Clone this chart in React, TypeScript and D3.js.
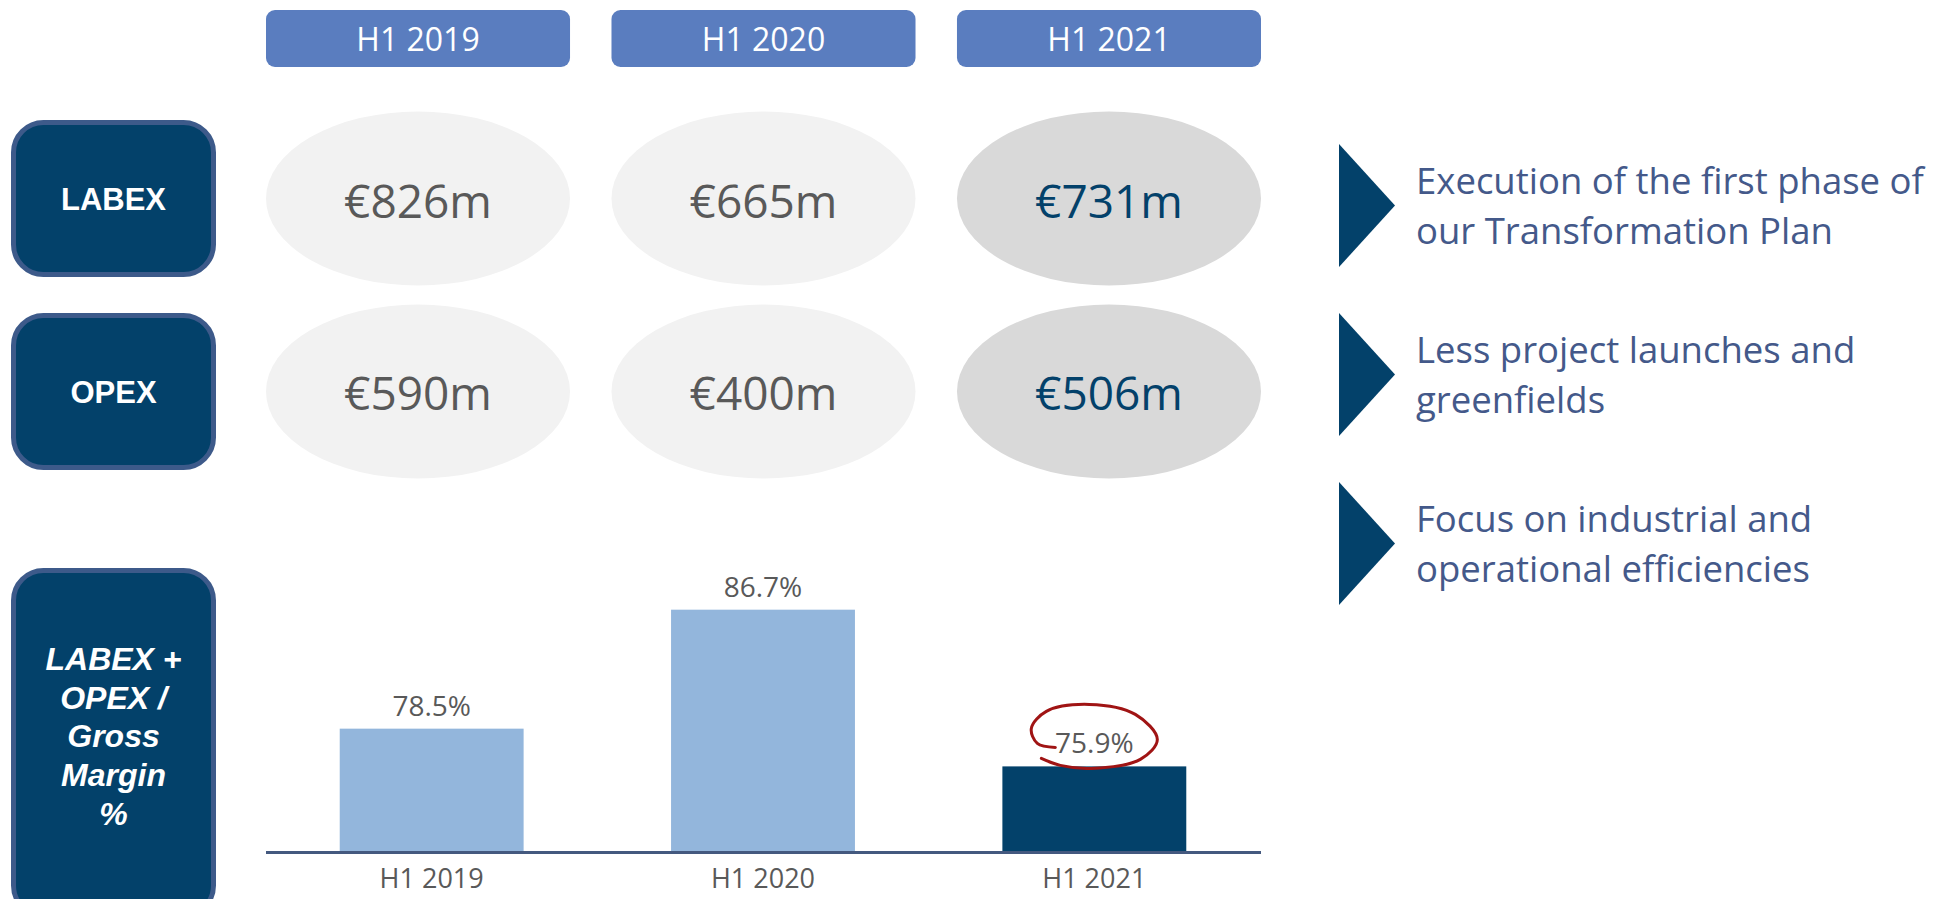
import React from "react";
import * as d3 from "d3";

const years = ["H1 2019", "H1 2020", "H1 2021"];
const highlightYear = "H1 2021";
const rowNames = ["LABEX", "OPEX"];
const labexValues = [826, 665, 731];
const opexValues = [590, 400, 506];
const ratioValues = [78.5, 86.7, 75.9];
const ratioLabelLines = ["LABEX +", "OPEX /", "Gross", "Margin", "%"];
const bulletLines = [
  ["Execution of the first phase of", "our Transformation Plan"],
  ["Less project launches and", "greenfields"],
  ["Focus on industrial and", "operational efficiencies"],
];

const W = 1945;
const H = 899;
const DARK = "#03416a";
const BORDER = "#3d5a8a";
const HEADER = "#5a7dbf";
const GRAY_TEXT = "#595959";
const LIGHT_BAR = "#93b6dc";
const BULLET_TEXT = "#44598a";
const SANS = "'Open Sans', sans-serif";
const ARIAL = "'Liberation Sans', Arial, sans-serif";

export default function App() {
  const colX = d3.scaleBand<string>().domain(years).range([266, 1261]).paddingInner(0.12).paddingOuter(0);
  const rowY = d3.scaleBand<string>().domain(rowNames).range([120, 470]).paddingInner(0.1865).paddingOuter(0);
  const barX = d3.scaleBand<string>().domain(years).range([266, 1260]).paddingInner(0.445).paddingOuter(0.2225);
  const barY = d3.scaleLinear().domain([70, 90]).range([852, 561.8]);
  const bulletY = d3.scaleBand<number>().domain([0, 1, 2]).range([144, 605]).paddingInner(0.272).paddingOuter(0);

  const rowValues: Record<string, number[]> = { LABEX: labexValues, OPEX: opexValues };

  const boxX = 13.5;
  const boxW = 200;

  // hand-drawn circle around highlighted label (offsets relative to label)
  const hiIdx = years.indexOf(highlightYear);
  const hiCx = (barX(highlightYear) as number) + barX.bandwidth() / 2;
  const hiBase = barY(ratioValues[hiIdx]) - 14;
  const loopOffsets: [number, number][] = [
    [-39, -5], [-57, -9], [-63, -24], [-48, -41], [-5, -48], [41, -38],
    [63, -13], [46, 7], [-3, 16], [-34, 13], [-53, 6],
  ];
  const loopPath = d3
    .line<[number, number]>()
    .x((d) => hiCx + d[0])
    .y((d) => hiBase + d[1])
    .curve(d3.curveCatmullRom.alpha(0.5))(loopOffsets);

  const triW = 56;
  const triX = 1339;
  const textX = 1416;

  return (
    <svg width={W} height={H} style={{ position: "absolute", left: 0, top: 0, background: "#fff" }}>
      {/* Column headers */}
      {years.map((y) => (
        <g key={"h" + y}>
          <rect x={colX(y)} y={10} width={colX.bandwidth()} height={57} rx={9} fill={HEADER} />
          <text
            x={(colX(y) as number) + colX.bandwidth() / 2}
            y={51}
            textAnchor="middle"
            fontFamily={SANS}
            fontSize={32}
            fill="#fff"
          >
            {y}
          </text>
        </g>
      ))}

      {/* Row labels and ellipses */}
      {rowNames.map((r) => {
        const top = rowY(r) as number;
        const bh = rowY.bandwidth();
        const cy = top + bh / 2;
        return (
          <g key={"r" + r}>
            <rect x={boxX} y={top + 2.5} width={boxW} height={bh - 5} rx={30} fill={DARK} stroke={BORDER} strokeWidth={5} />
            <text x={boxX + boxW / 2} y={cy + 11.5} textAnchor="middle" fontFamily={ARIAL} fontWeight="bold" fontSize={31} fill="#fff">
              {r}
            </text>
            {years.map((y, i) => {
              const hi = y === highlightYear;
              const cx = (colX(y) as number) + colX.bandwidth() / 2;
              return (
                <g key={r + y}>
                  <ellipse cx={cx} cy={cy} rx={colX.bandwidth() / 2} ry={bh / 2 + 8.5} fill={hi ? "#d9d9d9" : "#f2f2f2"} />
                  <text x={cx} y={cy + 19} textAnchor="middle" fontFamily={SANS} fontSize={46} fill={hi ? DARK : GRAY_TEXT}>
                    {"€" + rowValues[r][i] + "m"}
                  </text>
                </g>
              );
            })}
          </g>
        );
      })}

      {/* Ratio label box */}
      <rect x={boxX} y={570.5} width={boxW} height={345} rx={30} fill={DARK} stroke={BORDER} strokeWidth={5} />
      {ratioLabelLines.map((l, i) => (
        <text
          key={"rl" + i}
          x={boxX + boxW / 2}
          y={670 + i * 38.7}
          textAnchor="middle"
          fontFamily={ARIAL}
          fontWeight="bold"
          fontStyle="italic"
          fontSize={32}
          fill="#fff"
        >
          {l}
        </text>
      ))}

      {/* Bars */}
      {years.map((y, i) => {
        const x = barX(y) as number;
        const top = barY(ratioValues[i]);
        return (
          <g key={"b" + y}>
            <rect x={x} y={top} width={barX.bandwidth()} height={barY(70) - top} fill={y === highlightYear ? DARK : LIGHT_BAR} />
            <text x={x + barX.bandwidth() / 2} y={top - 13} textAnchor="middle" fontFamily={SANS} fontSize={28} fill={GRAY_TEXT}>
              {ratioValues[i].toFixed(1) + "%"}
            </text>
            <text x={x + barX.bandwidth() / 2} y={888} textAnchor="middle" fontFamily={SANS} fontSize={27} fill={GRAY_TEXT}>
              {y}
            </text>
          </g>
        );
      })}
      <line x1={266} x2={1261} y1={barY(70) + 0.5} y2={barY(70) + 0.5} stroke="#44597f" strokeWidth={3} />
      {loopPath && <path d={loopPath} fill="none" stroke="#a01414" strokeWidth={3} strokeLinecap="round" />}

      {/* Bullets */}
      {bulletLines.map((lines, i) => {
        const top = bulletY(i) as number;
        const h = bulletY.bandwidth();
        return (
          <g key={"bl" + i}>
            <path d={`M${triX},${top}L${triX + triW},${top + h / 2}L${triX},${top + h}Z`} fill={DARK} />
            {lines.map((t, j) => (
              <text key={j} x={textX} y={top + 50 + j * 50} fontFamily={SANS} fontSize={36.5} fill={BULLET_TEXT}>
                {t}
              </text>
            ))}
          </g>
        );
      })}
    </svg>
  );
}
